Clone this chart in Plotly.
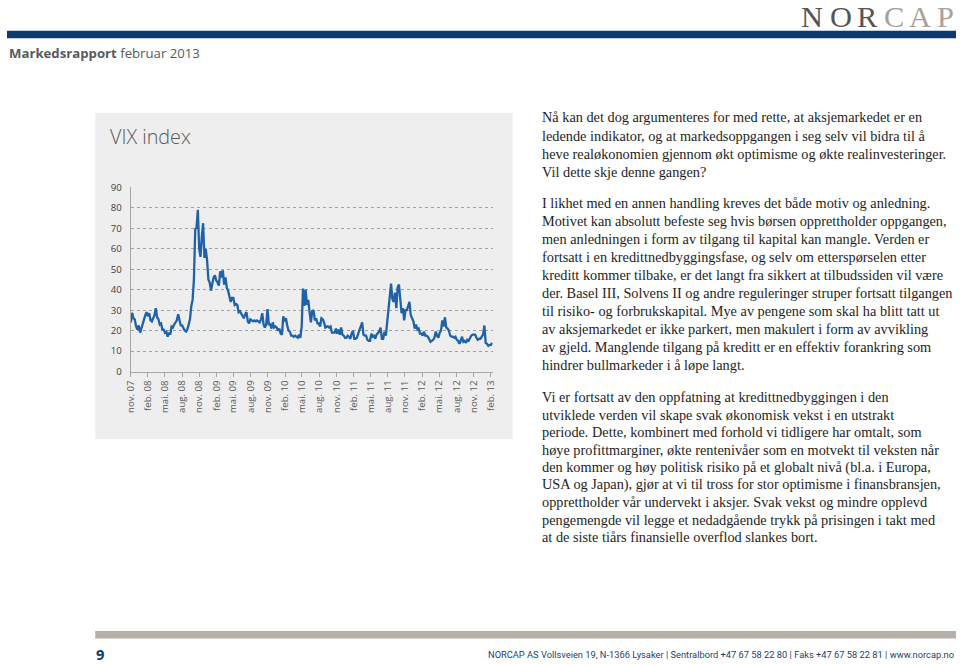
import pandas as pd
import plotly.graph_objects as go

# ---------------- data ----------------
vix_2007 = [24.0, 28.7, 26.0, 25.5, 22.0,
            20.5, 22.5, 19.0, 21.0]
vix_2008 = [23.5, 25.0, 27.5, 29.0,
            27.0, 28.5, 25.0, 24.5, 26.5,
            27.5, 31.0, 26.5, 25.5,
            23.0, 23.5, 20.5, 20.5,
            19.0, 19.5, 17.0, 19.0, 18.0,
            22.0, 21.5, 23.0, 24.0,
            25.0, 28.0, 24.5, 22.5,
            22.5, 21.0, 20.0, 19.5, 20.5,
            23.0, 25.5, 32.0, 35.0,
            45.0, 69.5, 70.5, 79.0, 60.0,
            56.0, 66.0, 72.5, 55.5,
            60.0, 54.5, 45.0, 43.5]
vix_2009 = [39.5, 43.0, 46.0, 47.0, 44.5,
            43.5, 42.0, 49.0, 46.0,
            49.5, 42.5, 46.0, 41.0,
            39.5, 36.5, 34.0, 36.0,
            36.0, 32.5, 33.0, 32.5, 29.0,
            29.5, 28.5, 27.5, 26.0,
            28.0, 29.0, 24.5, 23.5, 25.5,
            25.0, 24.5, 25.0, 24.5,
            25.0, 24.5, 24.0, 25.5,
            28.5, 23.0, 21.5, 23.0, 30.5,
            23.0, 23.0, 21.0, 24.0,
            21.5, 22.0, 21.5, 20.0]
vix_2010 = [21.0, 18.5, 18.0, 27.0, 24.5,
            26.0, 22.5, 20.0, 19.5,
            17.5, 17.5, 17.0, 17.5,
            17.0, 16.5, 18.0, 16.5, 22.0,
            40.5, 32.0, 40.0, 32.5,
            35.0, 29.0, 24.0, 29.5,
            30.0, 25.0, 26.0, 23.5, 23.5,
            22.0, 26.0, 25.5, 24.0,
            21.5, 22.0, 22.0, 21.5,
            22.0, 19.0, 19.0, 19.0, 21.0,
            18.5, 20.5, 18.0, 21.5,
            18.0, 17.5, 16.5, 16.5, 17.5]
vix_2011 = [17.0, 16.0, 18.5, 20.0,
            16.0, 16.0, 16.5, 19.0,
            20.5, 22.0, 24.0, 18.0,
            17.5, 17.5, 15.5, 15.0, 15.0,
            18.5, 17.0, 17.5, 16.0,
            18.0, 19.0, 19.5, 21.5,
            16.0, 16.0, 19.5, 17.5, 25.0,
            32.0, 36.5, 43.0, 35.5,
            34.0, 38.5, 31.0, 41.0, 42.5,
            36.5, 28.5, 31.0, 25.0,
            30.0, 30.0, 32.0, 34.0,
            27.5, 26.0, 24.5, 21.0, 23.0]
vix_2012 = [20.5, 21.0, 18.5, 18.5,
            17.5, 19.5, 17.5, 17.5,
            17.0, 16.0, 14.5, 15.0, 15.5,
            16.5, 19.5, 17.5, 16.5,
            19.0, 20.0, 25.0, 22.0,
            26.5, 21.5, 21.0, 20.0, 17.5,
            17.0, 17.0, 16.5, 17.0,
            15.5, 15.0, 13.5, 15.0, 17.0,
            14.5, 15.0, 14.0, 15.5,
            15.0, 16.5, 17.5, 18.0,
            18.0, 18.0, 16.5, 15.5, 16.0,
            16.0, 17.0, 18.0, 22.5]
vix_2013 = [14.0, 13.5, 12.5, 13.0,
            13.0, 14.0]

vix = vix_2007 + vix_2008 + vix_2009 + vix_2010 + vix_2011 + vix_2012 + vix_2013
dates = pd.date_range("2007-11-02", periods=len(vix), freq="W-FRI")

tick_dates = ["2007-11-01", "2008-02-01", "2008-05-01", "2008-08-01", "2008-11-01",
              "2009-02-01", "2009-05-01", "2009-08-01", "2009-11-01",
              "2010-02-01", "2010-05-01", "2010-08-01", "2010-11-01",
              "2011-02-01", "2011-05-01", "2011-08-01", "2011-11-01",
              "2012-02-01", "2012-05-01", "2012-08-01", "2012-11-01",
              "2013-02-01"]
tick_labels = ["nov. 07", "feb. 08", "mai. 08", "aug. 08", "nov. 08",
               "feb. 09", "mai. 09", "aug. 09", "nov. 09",
               "feb. 10", "mai. 10", "aug. 10", "nov. 10",
               "feb. 11", "mai. 11", "aug. 11", "nov. 11",
               "feb. 12", "mai. 12", "aug. 12", "nov. 12",
               "feb. 13"]
y_ticks = [0, 10, 20, 30, 40, 50, 60, 70, 80, 90]

chart_title = "VIX index"
header_text = "<b>Markedsrapport</b> februar 2013"
footer_text = ("NORCAP AS Vollsveien 19, N-1366 Lysaker | Sentralbord +47 67 58 22 80 | "
               "Faks +47 67 58 22 81 | www.norcap.no")
page_number = "9"
logo_letters = ["N", "O", "R", "C", "A", "P"]

para1 = ["Nå kan det dog argumenteres for med rette, at aksjemarkedet er en",
         "ledende indikator, og at markedsoppgangen i seg selv vil bidra til å",
         "heve realøkonomien gjennom økt optimisme og økte realinvesteringer.",
         "Vil dette skje denne gangen?"]
para2 = ["I likhet med en annen handling kreves det både motiv og anledning.",
         "Motivet kan absolutt befeste seg hvis børsen opprettholder oppgangen,",
         "men anledningen i form av tilgang til kapital kan mangle. Verden er",
         "fortsatt i en kredittnedbyggingsfase, og selv om etterspørselen etter",
         "kreditt kommer tilbake, er det langt fra sikkert at tilbudssiden vil være",
         "der. Basel III, Solvens II og andre reguleringer struper fortsatt tilgangen",
         "til risiko- og forbrukskapital. Mye av pengene som skal ha blitt tatt ut",
         "av aksjemarkedet er ikke parkert, men makulert i form av avvikling",
         "av gjeld. Manglende tilgang på kreditt er en effektiv forankring som",
         "hindrer bullmarkeder i å løpe langt."]
para3 = ["Vi er fortsatt av den oppfatning at kredittnedbyggingen i den",
         "utviklede verden vil skape svak økonomisk vekst i en utstrakt",
         "periode. Dette, kombinert med forhold vi tidligere har omtalt, som",
         "høye profittmarginer, økte rentenivåer som en motvekt til veksten når",
         "den kommer og høy politisk risiko på et globalt nivå (bl.a. i Europa,",
         "USA og Japan), gjør at vi til tross for stor optimisme i finansbransjen,",
         "opprettholder vår undervekt i aksjer. Svak vekst og mindre opplevd",
         "pengemengde vil legge et nedadgående trykk på prisingen i takt med",
         "at de siste tiårs finansielle overflod slankes bort."]

# ---------------- layout helpers ----------------
# positions are given in pixels of the 960x665 page; mapped to figure coordinates
W, H = 960, 665
K, O = 0.985, 6.1
def px(s):
    return min(max((s - O) / K / W, 0), 1)
def py(s):
    return min(max(1 - (s - O) / K / H, 0), 1)
def fs(s):
    return s / K

NAVY = "#0b3a6f"
GRAY_TXT = "#595959"

fig = go.Figure()
fig.add_trace(go.Scatter(x=dates, y=vix, mode="lines",
                         line=dict(color="#1f62a8", width=2.3),
                         hoverinfo="x+y", showlegend=False))

shapes = [
    dict(type="rect", xref="paper", yref="paper", x0=px(94), x1=px(510), y0=py(440), y1=py(112.5),
         fillcolor="#eeeeee", line=dict(width=0), layer="below"),
    dict(type="rect", xref="paper", yref="paper", x0=px(0), x1=px(955), y0=py(37.5), y1=py(30),
         fillcolor=NAVY, line=dict(width=0), layer="below"),
    dict(type="rect", xref="paper", yref="paper", x0=px(94), x1=px(955), y0=py(640.5), y1=py(633),
         fillcolor="#b5b0a7", line=dict(width=0), layer="below"),
]

annotations = []
logo_x = [808, 837, 864, 890, 916, 941]
logo_col = ["#555555", "#555555", "#555555", "#a8a299", "#a8a299", "#a8a299"]
for ch, xx, cc in zip(logo_letters, logo_x, logo_col):
    annotations.append(dict(text=ch, x=px(xx), y=py(16), xref="paper", yref="paper",
                            xanchor="center", yanchor="middle", showarrow=False,
                            font=dict(family="Liberation Serif", size=fs(30), color=cc)))
annotations.append(dict(text=header_text, x=px(2), y=py(52), xref="paper", yref="paper",
                        xanchor="left", yanchor="middle", showarrow=False,
                        font=dict(family="Open Sans", size=fs(13.0), color="#58595b")))
annotations.append(dict(text=chart_title, x=px(107), y=py(136), xref="paper", yref="paper",
                        xanchor="left", yanchor="middle", showarrow=False,
                        font=dict(family="Open Sans", size=fs(19.5), color=GRAY_TXT, weight=300)))
def add_lines(lines, y0, step):
    for i, t in enumerate(lines):
        annotations.append(dict(text=t, x=px(537), y=py(y0 + i * step), xref="paper", yref="paper",
                                xanchor="left", yanchor="middle", showarrow=False,
                                font=dict(family="Liberation Serif", size=14.3, color="#1e1e1e")))
add_lines(para1, 117, 18.2)
add_lines(para2, 203, 18.1)
add_lines(para3, 398, 17.6)
annotations.append(dict(text="<b>" + page_number + "</b>", x=px(93), y=py(656), xref="paper", yref="paper",
                        xanchor="left", yanchor="middle", showarrow=False,
                        font=dict(family="Open Sans", size=fs(14.5), color=NAVY)))
annotations.append(dict(text=footer_text, x=px(953), y=py(657), xref="paper", yref="paper",
                        xanchor="right", yanchor="middle", showarrow=False,
                        font=dict(family="Roboto", size=9.3, color="#1d3f6e")))

fig.update_layout(
    width=W, height=H, autosize=False,
    margin=dict(l=0, r=0, t=0, b=0),
    paper_bgcolor="white", plot_bgcolor="rgba(0,0,0,0)",
    shapes=shapes, annotations=annotations,
    xaxis=dict(domain=[px(129.3), px(490)], type="date",
               range=["2007-11-01", "2013-02-10"],
               tickmode="array", tickvals=tick_dates, ticktext=tick_labels,
               tickangle=-90, ticks="outside", ticklen=4, tickcolor="#a6a6a6",
               showgrid=False, showline=True, linecolor="#a6a6a6", linewidth=1,
               zeroline=False,
               tickfont=dict(family="Open Sans", size=fs(9.5), color=GRAY_TXT)),
    yaxis=dict(domain=[py(372.3), py(187.3)], range=[0, 90],
               tickmode="array", tickvals=y_ticks, ticktext=[str(v) for v in y_ticks],
               showgrid=True, gridcolor="#a0a0a0", griddash="dot", gridwidth=1,
               showline=True, linecolor="#a6a6a6", linewidth=1, zeroline=False,
               ticks="", ticklabelstandoff=6,
               tickfont=dict(family="Open Sans", size=fs(9.5), color="#404040")),
)

# the page's default 8px body margin would push the 960x665 figure past the window
fig.write_html("out.html", config={"displayModeBar": False},
               post_script="document.body.style.margin='0px';")
